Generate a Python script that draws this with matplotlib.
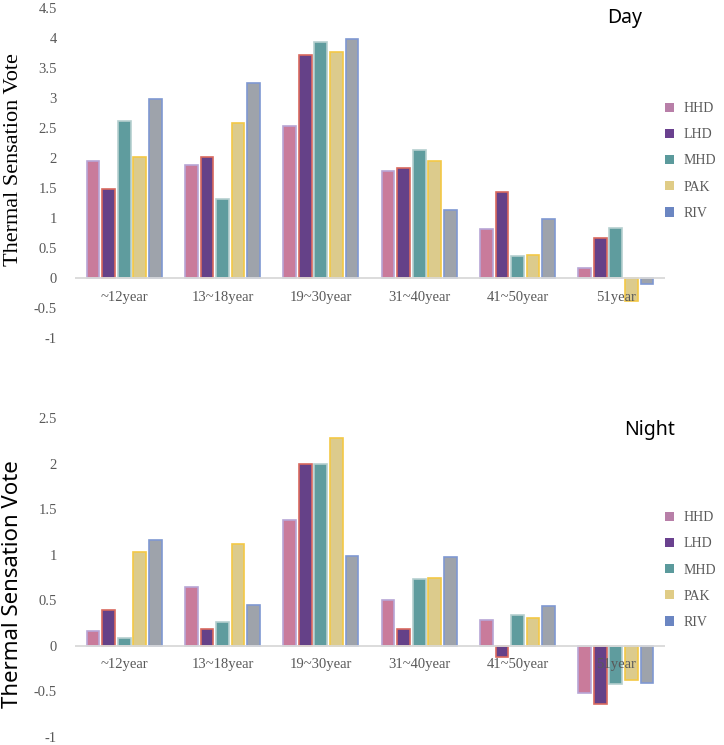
import numpy as np
import matplotlib
matplotlib.use('Agg')
import matplotlib.pyplot as plt
from matplotlib.patches import Patch

categories = ['~12year', '13~18year', '19~30year', '31~40year', '41~50year', '51year']
groups = ['HHD', 'LHD', 'MHD', 'PAK', 'RIV']

day_values = {
    'HHD': [1.95, 1.89, 2.54, 1.78, 0.82, 0.17],
    'LHD': [1.48, 2.01, 3.72, 1.84, 1.43, 0.66],
    'MHD': [2.62, 1.32, 3.93, 2.13, 0.36, 0.83],
    'PAK': [2.02, 2.59, 3.77, 1.95, 0.38, -0.38],
    'RIV': [2.99, 3.25, 3.99, 1.14, 0.98, -0.10],
}
night_values = {
    'HHD': [0.16, 0.65, 1.38, 0.50, 0.28, -0.52],
    'LHD': [0.39, 0.19, 1.99, 0.18, -0.12, -0.64],
    'MHD': [0.09, 0.26, 1.99, 0.73, 0.34, -0.42],
    'PAK': [1.03, 1.12, 2.28, 0.75, 0.31, -0.38],
    'RIV': [1.16, 0.45, 0.99, 0.98, 0.44, -0.41],
}

face_colors = ['#c97b9b', '#654188', '#5f9c9e', '#dccb8c', '#9ea3ab']
edge_colors = ['#b7a6d6', '#d9695f', '#b5cfcf', '#f3c846', '#7f98d2']
legend_colors = ['#b87fa8', '#6a418f', '#5b9a9c', '#e0cc86', '#6b86c2']

GRAY = '#595959'
SERIF = 'Liberation Serif'

fig = plt.figure(figsize=(7.24, 7.45), dpi=100)
W, H = 724, 745


def draw_panel(rect, values, ylim, yticks, title, title_xy, ylabel_font, ylabel_y, legend_y):
    ax = fig.add_axes(rect)
    x = np.arange(len(categories))
    slot = 0.158
    width = 0.13
    for i, g in enumerate(groups):
        ax.bar(x + (i - 2) * slot, values[g], width, color=face_colors[i],
               edgecolor=edge_colors[i], linewidth=1.2, zorder=2)
    ax.axhline(0, color='#d9d9d9', lw=1.3, zorder=3)
    ax.set_xlim(-0.5, len(categories) - 0.5)
    ax.set_ylim(*ylim)
    ax.set_yticks(yticks)
    ax.set_yticklabels([f'{t:g}' for t in yticks], family=SERIF, color=GRAY, fontsize=10.5)
    ax.set_xticks([])
    ax.tick_params(axis='y', length=0, pad=13)
    for s in ax.spines.values():
        s.set_visible(False)
    for i, c in enumerate(categories):
        ax.annotate(c, xy=(i, 0), xytext=(0, -19), textcoords='offset pixels',
                    ha='center', va='center', family=SERIF, color=GRAY,
                    fontsize=10.5, zorder=4)
    ax.set_ylabel('Thermal Sensation Vote', fontsize=16, family=ylabel_font, color='black')
    ax.yaxis.set_label_coords(-0.088, ylabel_y)
    fig.text(title_xy[0] / W, 1 - title_xy[1] / H, title, fontsize=14,
             family='Noto Sans', ha='center', va='center')
    handles = [Patch(facecolor=legend_colors[i], edgecolor='none', label=g)
               for i, g in enumerate(groups)]
    fig.legend(handles=handles, loc='center left',
               bbox_to_anchor=(652 / W, 1 - legend_y / H), frameon=False,
               handlelength=0.65, handleheight=0.65, handletextpad=0.7,
               labelspacing=0.95, prop={'family': SERIF, 'size': 10},
               labelcolor=GRAY)
    return ax


draw_panel([75 / W, 1 - 338 / H, 590 / W, 330 / H], day_values, (-1, 4.5),
           [4.5, 4, 3.5, 3, 2.5, 2, 1.5, 1, 0.5, 0, -0.5, -1],
           'Day', (625, 18), SERIF, 0.54, 161)
draw_panel([75 / W, 1 - 737 / H, 590 / W, 319 / H], night_values, (-1, 2.5),
           [2.5, 2, 1.5, 1, 0.5, 0, -0.5, -1],
           'Night', (650, 430), 'Noto Sans', 0.48, 570)

fig.savefig('out.png', dpi=100)
